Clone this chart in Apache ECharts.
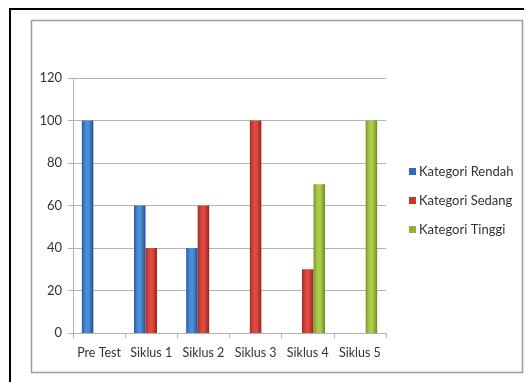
<!DOCTYPE html>
<html>
<head>
<meta charset="utf-8">
<script src="https://cdn.jsdelivr.net/npm/echarts@6/dist/echarts.min.js"></script>
<style>
  html, body { margin: 0; padding: 0; background: #ffffff; }
  #chart { width: 529px; height: 382px; }
</style>
</head>
<body>
<div id="chart"></div>
<script>
// Categories and the share (%) of students in each category per cycle
const categories = ['Pre Test', 'Siklus 1', 'Siklus 2', 'Siklus 3', 'Siklus 4', 'Siklus 5'];
const rendah = [100, 60, 40, 0, 0, 0];
const sedang = [0, 40, 60, 100, 30, 0];
const tinggi = [0, 0, 0, 0, 70, 100];
const seriesNames = ['Kategori Rendah', 'Kategori Sedang', 'Kategori Tinggi'];
const yTicks = { min: 0, max: 120, interval: 20 };

// Cylinder-like shading: darker edges, lighter band left of centre
function cyl(edgeL, mid, edgeR) {
  return new echarts.graphic.LinearGradient(0, 0, 1, 0, [
    { offset: 0, color: edgeL },
    { offset: 0.35, color: mid },
    { offset: 0.6, color: mid },
    { offset: 1, color: edgeR }
  ]);
}
const colors = [
  cyl('#2a5ca6', '#4a8ed8', '#1f4e92'),
  cyl('#a82a22', '#dc4a40', '#9a2119'),
  cyl('#7a9a28', '#abcb4c', '#6e8c22')
];
const legendColors = ['#2f6bb8', '#c9342b', '#8fb13a'];

const font = 'Lato, "Open Sans", sans-serif';
const textColor = '#333333';
const gridColor = '#b4b4b4';

const chart = echarts.init(document.getElementById('chart'), null, { renderer: 'canvas' });

const values = [rendah, sedang, tinggi];
const series = values.map((v, i) => ({
  name: seriesNames[i],
  type: 'bar',
  data: v,
  barWidth: 11.5,
  barGap: '0%',
  itemStyle: { color: colors[i] },
  emphasis: { disabled: true }
}));

chart.setOption({
  animation: false,
  backgroundColor: '#ffffff',
  graphic: [
    // outer black frame (top and left)
    { type: 'line', shape: { x1: 9, y1: 9, x2: 524, y2: 9 }, style: { stroke: '#000', lineWidth: 2 } },
    { type: 'line', shape: { x1: 10, y1: 8, x2: 10, y2: 382 }, style: { stroke: '#000', lineWidth: 2 } },
    // grey chart-area frame
    { type: 'rect', shape: { x: 31.5, y: 20.5, width: 491, height: 352 },
      style: { fill: 'none', stroke: '#9c9c9c', lineWidth: 1.5 } }
  ],
  grid: { left: 73, right: 143, top: 78, bottom: 49 },
  legend: {
    orient: 'vertical',
    left: 404,
    top: 160,
    itemWidth: 7,
    itemHeight: 7,
    itemGap: 16,
    icon: 'rect',
    textStyle: { fontFamily: font, fontSize: 13, color: textColor, padding: [0, 0, 0, -2] },
    data: seriesNames.map((n, i) => ({ name: n, itemStyle: { color: legendColors[i] } }))
  },
  xAxis: {
    type: 'category',
    data: categories,
    axisLine: { lineStyle: { color: gridColor } },
    axisTick: { show: true, length: 5, lineStyle: { color: gridColor } },
    axisLabel: { interval: 0, fontFamily: font, fontSize: 12.5, color: textColor, margin: 13 }
  },
  yAxis: {
    type: 'value',
    min: yTicks.min,
    max: yTicks.max,
    interval: yTicks.interval,
    axisLine: { show: true, lineStyle: { color: gridColor } },
    axisTick: { show: true, length: 5, lineStyle: { color: gridColor } },
    splitLine: { lineStyle: { color: gridColor } },
    axisLabel: { fontFamily: font, fontSize: 13, color: textColor, margin: 11 }
  },
  series: series
});
</script>
</body>
</html>
